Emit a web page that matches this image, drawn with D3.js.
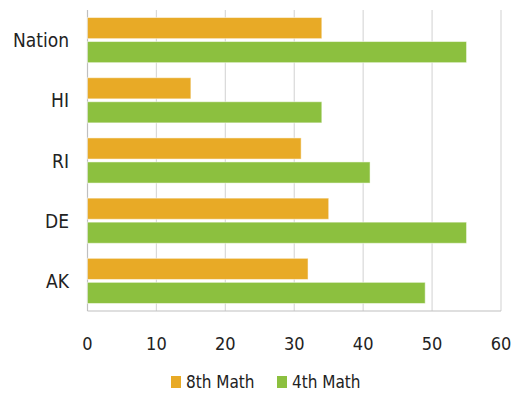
<!DOCTYPE html>
<html>
<head>
<meta charset="utf-8">
<script src="https://cdn.jsdelivr.net/npm/d3@7"></script>
<style>
  body { margin: 0; background: #fff; }
  text { font-family: "Liberation Sans Narrow", "DejaVu Sans Condensed", "Roboto", sans-serif; fill: #222; }
</style>
</head>
<body>
<div id="chart"></div>
<script>
const states = ['Nation', 'HI', 'RI', 'DE', 'AK'];
const math8 = [34, 15, 31, 35, 32];
const math4 = [55, 34, 41, 55, 49];
const seriesNames = ['8th Math', '4th Math'];
const seriesColors = ['#E8AA26', '#8CC03F'];
const xTicks = [0, 10, 20, 30, 40, 50, 60];

const width = 531, height = 393;
const margin = { top: 10, right: 30, bottom: 82, left: 87.5 };

const svg = d3.select('#chart')
  .append('svg')
  .attr('width', width)
  .attr('height', height);

const x = d3.scaleLinear()
  .domain([0, 60])
  .range([margin.left, 501]);

const y = d3.scaleBand()
  .domain(states)
  .range([margin.top, 311])
  .paddingInner(0.25)
  .paddingOuter(0.125);

const ySub = d3.scaleBand()
  .domain(seriesNames)
  .range([0, y.bandwidth()])
  .paddingInner(0.12);

// gridlines
svg.append('g')
  .selectAll('line')
  .data(xTicks)
  .join('line')
  .attr('x1', d => x(d))
  .attr('x2', d => x(d))
  .attr('y1', margin.top)
  .attr('y2', 311)
  .attr('stroke', d => d === 0 ? '#bfbfbf' : '#d9d9d9')
  .attr('stroke-width', 1.2);

// bottom axis line
svg.append('line')
  .attr('x1', x(0))
  .attr('x2', x(60))
  .attr('y1', 311)
  .attr('y2', 311)
  .attr('stroke', '#bfbfbf')
  .attr('stroke-width', 1.2);

const rows = states.map((s, i) => ({ state: s, values: [math8[i], math4[i]] }));

const groups = svg.append('g')
  .selectAll('g')
  .data(rows)
  .join('g')
  .attr('transform', d => `translate(0,${y(d.state)})`);

groups.selectAll('rect')
  .data(d => d.values.map((v, j) => ({ key: seriesNames[j], value: v, color: seriesColors[j] })))
  .join('rect')
  .attr('x', x(0))
  .attr('y', d => ySub(d.key))
  .attr('width', d => x(d.value) - x(0))
  .attr('height', ySub.bandwidth())
  .attr('fill', d => d.color)
  .attr('stroke', '#fff')
  .attr('stroke-opacity', 0.5)
  .attr('stroke-width', 1);

// category labels
svg.append('g')
  .selectAll('text')
  .data(states)
  .join('text')
  .attr('x', 69)
  .attr('y', d => y(d) + y.bandwidth() / 2)
  .attr('text-anchor', 'end')
  .attr('dominant-baseline', 'central')
  .style('font-size', '19px')
  .text(d => d);

// x tick labels
svg.append('g')
  .selectAll('text')
  .data(xTicks)
  .join('text')
  .attr('x', d => x(d))
  .attr('y', 343)
  .attr('text-anchor', 'middle')
  .attr('dominant-baseline', 'central')
  .style('font-size', '18px')
  .text(d => d);

// legend
const legendX = [171, 277];
const legend = svg.append('g')
  .selectAll('g')
  .data(seriesNames)
  .join('g')
  .attr('transform', (d, i) => `translate(${legendX[i]},376)`);

legend.append('rect')
  .attr('width', 10)
  .attr('height', 12)
  .attr('fill', (d, i) => seriesColors[i]);

legend.append('text')
  .attr('x', 15)
  .attr('y', 6)
  .attr('dominant-baseline', 'central')
  .style('font-size', '17px')
  .text(d => d);
</script>
</body>
</html>
